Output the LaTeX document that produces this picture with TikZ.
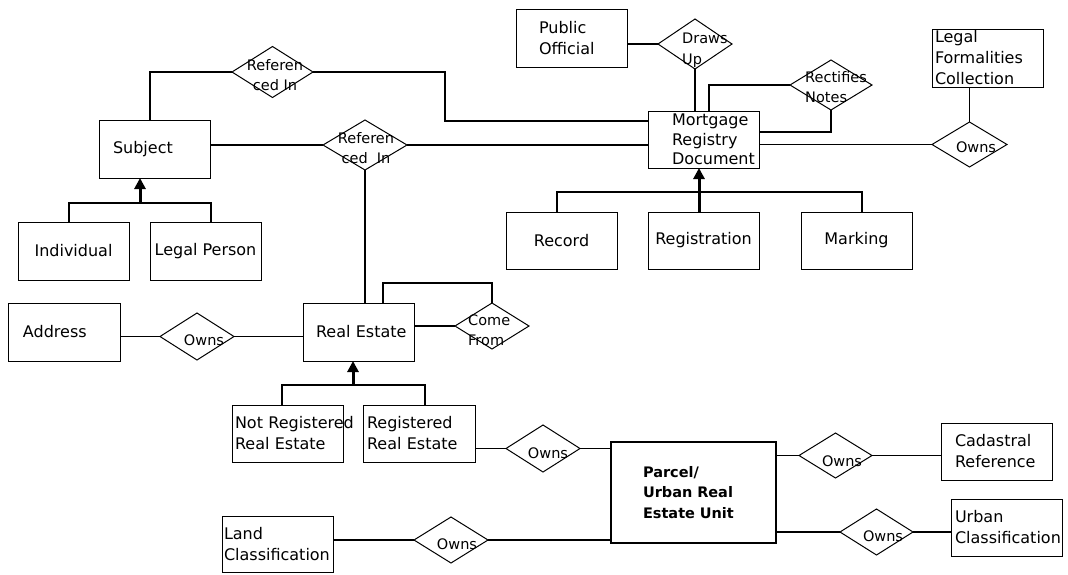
\documentclass[tikz,border=0pt]{standalone}
\usepackage{fontspec}
\setmainfont{DejaVu Sans}
\usetikzlibrary{shapes.geometric,arrows.meta}

\tikzset{
  ebox/.style={draw, line width=1pt, inner ysep=0pt, inner xsep=0pt, outer sep=0pt,
    minimum width=111pt, minimum height=58pt, align=center,
    font=\fontsize{16}{21}\selectfont},
  lbox/.style={ebox, align=left, inner xsep=#1pt},
  dia/.style={draw, diamond, line width=1pt, inner sep=0pt, outer sep=0pt},
  dtext/.style={inner sep=0pt, align=left, font=\fontsize{14.5}{20.5}\selectfont},
  conn/.style={line width=1.4pt},
  inh/.style={line width=3pt, -{Triangle[length=11pt,width=11pt]}},
}

\begin{document}
\begin{tikzpicture}[x=1pt,y=-1pt]
\fill[white] (0,0) rectangle (1068,574);

% entity boxes
\node[lbox=23, text width=65pt] (pub) at (571.5,38) {Public\\Official};
\node[lbox=24, text width=63pt, minimum height=57pt, font=\fontsize{16}{19.5}\selectfont] (mrd) at (703.5,139.5) {Mortgage\\Registry\\\mbox{Document}};
\node[lbox=3, text width=105pt] (lfc) at (987.5,58) {Legal\\Formalities\\Collection};
\node[lbox=14, text width=83pt] (subj) at (154.5,149) {Subject};
\node[ebox] (ind) at (73.5,251) {Individual};
\node[ebox] (lp) at (205.5,251) {Legal Person};
\node[ebox, minimum height=57pt] (rec) at (561.5,240.5) {Record};
\node[ebox, minimum height=57pt] (regn) at (703.5,240.5) {Registration};
\node[ebox, minimum height=57pt] (mark) at (856.5,240.5) {Marking};
\node[lbox=15, text width=82pt, minimum width=112pt] (addr) at (64,332) {Address};
\node[lbox=13, text width=85pt] (re) at (358.5,332) {\mbox{Real Estate}};
\node[lbox=3, text width=105pt, minimum height=57pt] (nre) at (287.5,433.5) {\mbox{Not Registered}\\\mbox{Real Estate}};
\node[lbox=4, text width=104pt, minimum width=112pt, minimum height=57pt] (rre) at (419,433.5) {Registered\\\mbox{Real Estate}};
\node[lbox=32, text width=101pt, minimum width=165pt, minimum height=101pt, line width=2pt,
      font=\fontsize{14.5}{20.5}\selectfont\bfseries] (parc) at (693.5,492.5) {Parcel/\\\mbox{Urban Real}\\\mbox{Estate Unit}};
\node[lbox=14, text width=83pt, minimum height=57pt] (cad) at (996.5,451.5) {Cadastral\\Reference};
\node[lbox=4, text width=103pt, minimum height=57pt] (urb) at (1006.5,527.5) {Urban\\\mbox{Classification}};
\node[lbox=2, text width=107pt, minimum height=56pt] (land) at (277.5,544) {Land\\\mbox{Classification}};

% relationship diamonds
\node[dia, minimum width=81pt, minimum height=51pt] (r1) at (272.5,72) {};
\node[dia, minimum width=84pt, minimum height=50pt] (r2) at (365,145) {};
\node[dia, minimum width=74pt, minimum height=50pt] (du) at (695,44) {};
\node[dia, minimum width=82pt, minimum height=50pt] (rn) at (831,85) {};
\node[dia, minimum width=75pt, minimum height=45pt] (lo) at (969.5,144.5) {};
\node[dia, minimum width=74pt, minimum height=46pt] (cf) at (492,326) {};
\node[dia, minimum width=74pt, minimum height=47pt] (ao) at (197,336.5) {};
\node[dia, minimum width=74pt, minimum height=47pt] (ro) at (543,448.5) {};
\node[dia, minimum width=74pt, minimum height=46pt] (lw) at (451,540) {};
\node[dia, minimum width=73pt, minimum height=45pt] (co) at (835.5,455.5) {};
\node[dia, minimum width=73pt, minimum height=46pt] (uo) at (876.5,532) {};

% relationship labels
\node[dtext, align=center] (r1t) at (275,75) {Referen\\ced In};
\node[dtext, align=center] (r2t) at (366,148) {Referen\\ced~ In};
\node[dtext, anchor=west] (dut) at (682,50) {Draws\\Up};
\node[dtext, anchor=west] (rnt) at (805,87) {Rectifies\\Notes};
\node[dtext, anchor=west] (cft) at (468,330) {Come\\From};
\node[dtext] (lot) at (976,147) {Owns};
\node[dtext] (aot) at (204,340) {Owns};
\node[dtext] (rot) at (548,453) {Owns};
\node[dtext] (lwt) at (457,544) {Owns};
\node[dtext] (cot) at (842,461) {Owns};
\node[dtext] (uot) at (883,536) {Owns};

% subject links
\draw[conn] ([xshift=-4.5pt]subj.north) |- (r1.west);
\coordinate (k1) at (445,121);
\draw[conn] (r1.east) -| (k1) -- (k1 -| mrd.west);
\draw[conn] (subj.east |- r2.west) -- (r2.west);
\draw[conn] (r2.east) -- (r2.east -| mrd.west);
\draw[conn] (r2.south) -- (r2.south |- re.north);
\coordinate (js) at (140,203);
\draw[conn] ([xshift=-4.5pt]ind.north) |- (js) -| ([xshift=5.5pt]lp.north);
\draw[inh] (js) -- (js |- subj.south);

% mortgage registry document links
\draw[conn] (pub.east |- du.west) -- (du.west);
\draw[conn] (du.south) -- (du.south |- mrd.north);
\draw[conn] ([xshift=5.5pt]mrd.north) |- (rn.west);
\draw[conn] (rn.south) |- ([yshift=7.5pt]mrd.east);
\draw[conn] (mrd.east |- lo.west) -- (lo.west);
\draw[conn] (lo.north) -- (lo.north |- lfc.south);
\coordinate (jm) at (699,192);
\draw[conn] ([xshift=-4.5pt]rec.north) |- (jm) -| ([xshift=5.5pt]mark.north);
\draw[inh] (regn.north -| jm) -- (jm |- mrd.south);

% real estate links
\draw[conn] (addr.east |- ao.west) -- (ao.west);
\draw[conn] (ao.east) -- (ao.east -| re.west);
\draw[conn] (re.east |- cf.west) -- (cf.west);
\draw[conn] ([xshift=24.5pt]re.north) -- ++(0,-20) -| (cf.north);
\coordinate (jr) at (353,385);
\draw[conn] ([xshift=-5.5pt]nre.north) |- (jr) -| ([xshift=6pt]rre.north);
\draw[inh] (jr) -- (jr |- re.south);

% parcel links
\draw[conn] (rre.east |- ro.west) -- (ro.west);
\draw[conn] (ro.east) -- (ro.east -| parc.west);
\draw[conn] (land.east |- lw.west) -- (lw.west);
\draw[conn] (lw.east) -- (lw.east -| parc.west);
\draw[conn] (parc.east |- co.west) -- (co.west);
\draw[conn] (co.east) -- (co.east -| cad.west);
\draw[conn] (parc.east |- uo.west) -- (uo.west);
\draw[conn] (uo.east) -- (uo.east -| urb.west);
\end{tikzpicture}
\end{document}
